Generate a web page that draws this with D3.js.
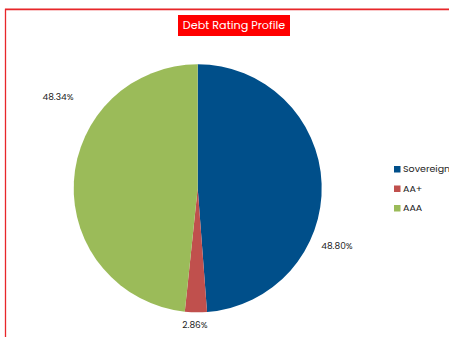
<!DOCTYPE html>
<html>
<head>
<meta charset="utf-8">
<script src="https://cdn.jsdelivr.net/npm/d3@7"></script>
<style>
  html, body { margin: 0; padding: 0; background: #fff; }
  svg { display: block; }
</style>
</head>
<body>
<svg id="chart" width="449" height="337"></svg>
<script>
// Debt rating breakdown
const categories = ["Sovereign", "AA+", "AAA"];
const shares = [48.80, 2.86, 48.34];
const sliceColors = ["#004f8a", "#c0504d", "#9bbb59"];
const chartTitle = "Debt Rating Profile";

const svg = d3.select("#chart");
const W = 449, H = 337;
const font = "Poppins, 'Open Sans', Lato, sans-serif";

// frame
svg.append("line").attr("x1", 5).attr("x2", W).attr("y1", 8.5).attr("y2", 8.5)
  .attr("stroke", "#f4b4b4").attr("stroke-width", 1);
svg.append("path")
  .attr("d", `M5.5,${H} V9.5 H${W}`)
  .attr("fill", "none").attr("stroke", "#e8262a").attr("stroke-width", 1.3);

// title
const title = svg.append("g");
title.append("rect").attr("x", 178).attr("y", 15).attr("width", 112).attr("height", 21)
  .attr("fill", "#ff0000");
title.append("text").attr("x", 234).attr("y", 26)
  .attr("text-anchor", "middle").attr("dominant-baseline", "middle").attr("fill", "#fff")
  .attr("font-family", font).attr("font-size", 11.2)
  .text(chartTitle);

// pie
const cx = 197.7, cy = 188.3, r = 124;
const data = categories.map((c, i) => ({ name: c, value: shares[i], color: sliceColors[i] }));
const pie = d3.pie().value(d => d.value).sort(null);
const arcs = pie(data);
const arc = d3.arc().innerRadius(0).outerRadius(r);
const g = svg.append("g").attr("transform", `translate(${cx},${cy})`);
g.selectAll("path").data(arcs).join("path")
  .attr("d", arc).attr("fill", d => d.data.color);

// value labels, best-fit placement around the pie: [angle shift (deg), radius]
const labelPlacement = [[24.7, 150.8], [0.3, 137.4], [30.1, 166.7]];
g.selectAll("text.val").data(arcs).join("text")
  .attr("class", "val")
  .attr("transform", (d, i) => {
    const [shift, rad] = labelPlacement[i];
    const a = (d.startAngle + d.endAngle) / 2 + shift * Math.PI / 180;
    return `translate(${rad * Math.sin(a)},${-rad * Math.cos(a)})`;
  })
  .attr("text-anchor", "middle").attr("dominant-baseline", "middle")
  .attr("font-family", font).attr("font-size", 9).attr("fill", "#222")
  .text(d => d3.format(".2f")(d.data.value) + "%");

// legend
const legend = svg.append("g").attr("transform", "translate(394,166)");
const item = legend.selectAll("g").data(data).join("g")
  .attr("transform", (d, i) => `translate(0,${i * 19.5})`);
item.append("rect").attr("width", 6.5).attr("height", 6.5).attr("fill", d => d.color);
item.append("text").attr("x", 9).attr("y", 3.5).attr("dominant-baseline", "middle")
  .attr("font-family", font).attr("font-size", 9.5).attr("fill", "#222")
  .text(d => d.name);
</script>
</body>
</html>
